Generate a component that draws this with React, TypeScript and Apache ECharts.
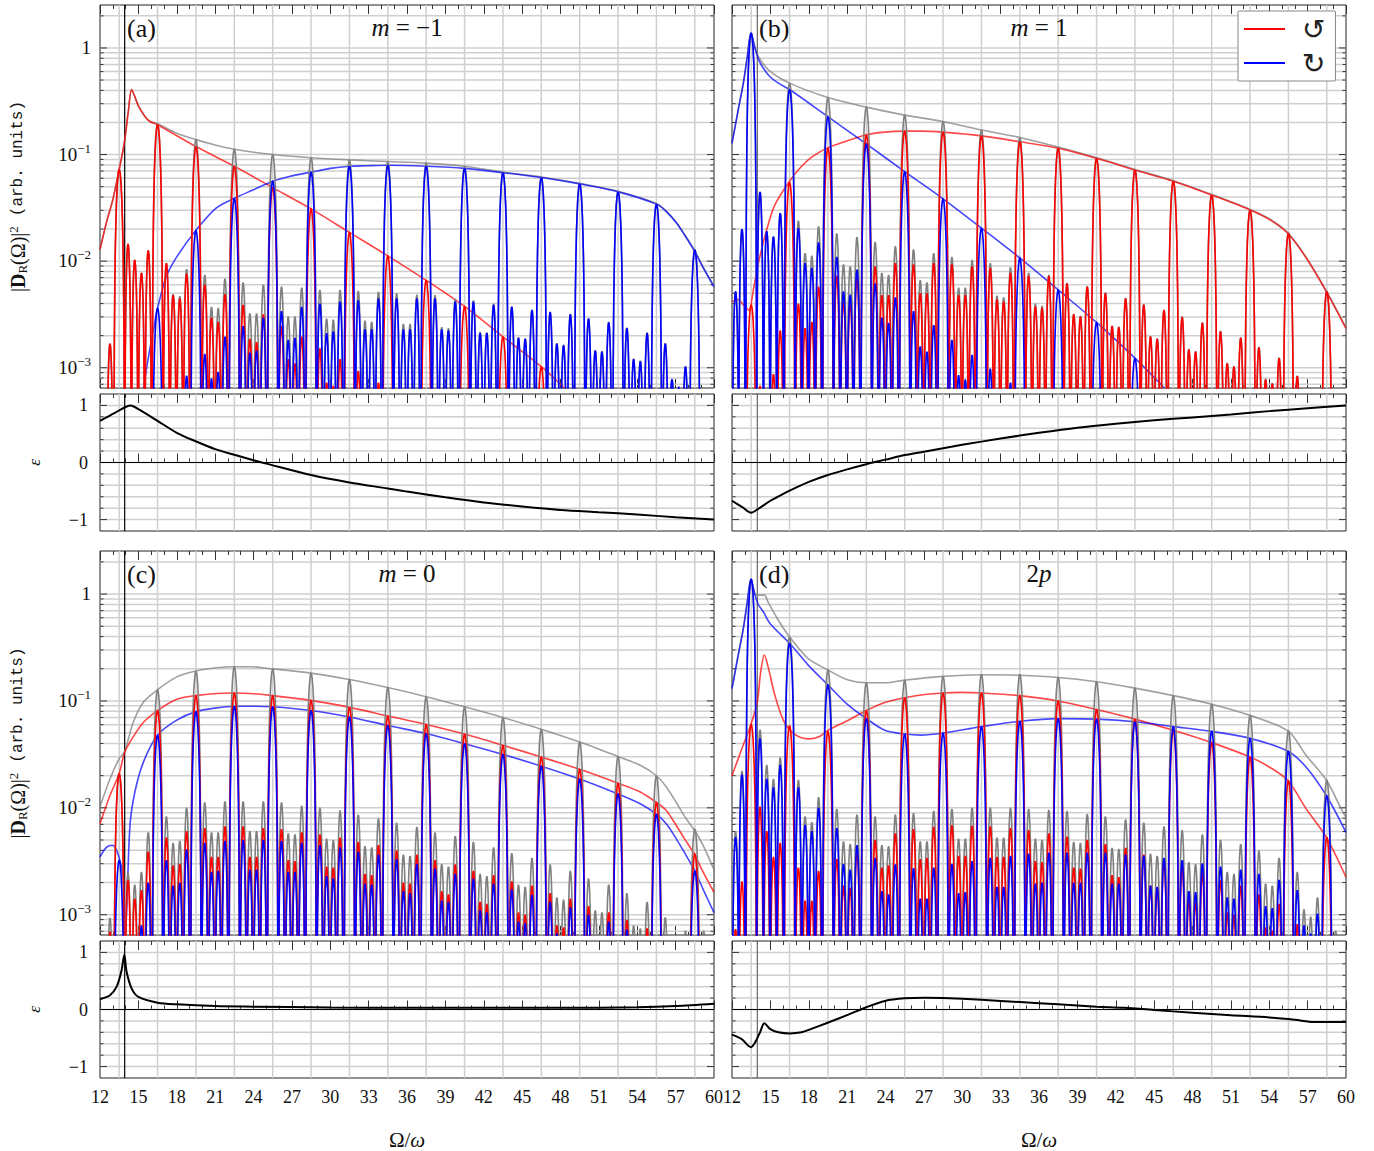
import React, { useEffect, useRef } from "react";
import * as echarts from "echarts";

// All |D|^2 values are stored as log10(|D|^2).
const n = null;
const xTickLabels = [12, 15, 18, 21, 24, 27, 30, 33, 36, 39, 42, 45, 48, 51, 54, 57, 60];
const harmonics = [13.5, 16.5, 19.5, 22.5, 25.5, 28.5, 31.5, 34.5, 37.5, 40.5, 43.5, 46.5, 49.5, 52.5, 55.5, 58.5];
const logGrid = [7e-4, 8e-4, 9e-4, 1e-3, 2e-3, 3e-3, 4e-3, 5e-3, 6e-3, 7e-3, 8e-3, 9e-3, 1e-2, 2e-2, 3e-2, 4e-2, 5e-2, 6e-2, 7e-2, 8e-2, 9e-2, 0.1, 0.2, 0.3, 0.4, 0.5, 0.6, 0.7, 0.8, 0.9, 1, 2];
const logMajor = [1e-3, 1e-2, 1e-1, 1];
const epsGrid = [-1, -0.8, -0.6, -0.4, -0.2, 0, 0.2, 0.4, 0.6, 0.8, 1];
const epsMajor = [-1, 0, 1];

// Lobes: positions relative to each harmonic, and half widths.
const headLobes = [12.28, 12.78];
const lobeOffsets = [0, 0.69, 1.215, 1.74, 2.27];
const lobeHalfWidths = [0.42, 0.265, 0.265, 0.265, 0.265];
// Lobe outline: [fraction of half width, fraction of peak height].
const lobeOutline = [[-1, 1e-4], [-0.96, 0.004], [-0.9, 0.024], [-0.8, 0.095], [-0.7, 0.206], [-0.6, 0.345], [-0.5, 0.5], [-0.35, 0.73], [-0.2, 0.9], [-0.1, 0.975], [0, 1], [0.1, 0.975], [0.2, 0.9], [0.35, 0.73], [0.5, 0.5], [0.6, 0.345], [0.7, 0.206], [0.8, 0.095], [0.9, 0.024], [0.96, 0.004], [1, 1e-4]];

// Peak heights: two head lobes, then per harmonic [main, side1..side4].
const aGray = [n, -2.775,
  -1.14, -1.84, -1.99, -2.11, -1.90,
  -0.71, -2.02, -2.31, -2.33, -2.075,
  -0.86, -2.13, -2.43, -2.44, -2.165,
  -0.95, -2.2, -2.49, -2.49, -2.22,
  -1.0, -2.24, -2.52, -2.52, -2.25,
  -1.03, -2.27, -2.54, -2.55, -2.27,
  -1.05, -2.28, -2.56, -2.57, -2.29,
  -1.065, -2.30, -2.59, -2.59, -2.315,
  -1.08, -2.32, -2.62, -2.63, -2.355,
  -1.11, -2.37, -2.665, -2.67, -2.40,
  -1.165, -2.425, -2.715, -2.725, -2.455,
  -1.21, -2.475, -2.77, -2.785, -2.495,
  -1.27, -2.535, -2.835, -2.845, -2.57,
  -1.345, -2.625, -2.915, -2.935, -2.67,
  -1.46, -2.77, -3.105, -3.175, -2.985,
  -1.89, n, n, n, n];
const aRed = [n, -2.775,
  -1.14, -1.84, -1.99, -2.11, -1.90,
  -0.72, -2.02, -2.32, -2.35, -2.12,
  -0.925, -2.22, -2.53, -2.57, -2.31,
  -1.11, -2.41, -2.73, -2.76, -2.50,
  -1.31, -2.61, -2.92, -2.96, -2.71,
  -1.51, -2.82, -3.14, -3.17, -2.92,
  -1.73, -3.03, n, n, -3.14,
  -1.95, n, n, n, n,
  -2.18, n, n, n, n,
  -2.425, n, n, n, n,
  -2.71, n, n, n, n,
  -2.99, n, n, n, n,
  n, n, n, n, n,
  n, n, n, n, n,
  n, n, n, n, n,
  n, n, n, n, n];
const aBlue = [n, n,
  n, n, n, n, n,
  -2.44, n, n, n, -3.075,
  -1.71, -2.87, -3.10, -3.04, -2.71,
  -1.41, -2.61, -2.86, -2.84, -2.53,
  -1.25, -2.47, -2.74, -2.72, -2.43,
  -1.165, -2.40, -2.675, -2.66, -2.38,
  -1.11, -2.37, -2.64, -2.64, -2.35,
  -1.10, -2.35, -2.64, -2.64, -2.35,
  -1.11, -2.35, -2.64, -2.65, -2.38,
  -1.13, -2.38, -2.675, -2.675, -2.41,
  -1.17, -2.43, -2.72, -2.73, -2.46,
  -1.215, -2.48, -2.775, -2.79, -2.50,
  -1.275, -2.54, -2.84, -2.85, -2.575,
  -1.35, -2.63, -2.92, -2.94, -2.675,
  -1.465, -2.775, -3.11, -3.18, -2.99,
  -1.895, n, n, n, n];

const bGray = [-2.285, -1.70,
  0.14, -1.35, -1.72, -1.77, -1.55,
  -0.33, -1.62, -1.925, -1.95, -1.675,
  -0.465, -1.74, -2.03, -2.05, -1.775,
  -0.555, -1.82, -2.11, -2.13, -1.86,
  -0.63, -1.89, -2.18, -2.20, -1.925,
  -0.69, -1.96, -2.25, -2.25, -1.99,
  -0.77, -2.02, -2.325, -2.34, -2.06,
  -0.84, -2.11, -2.40, -2.42, -2.13,
  -0.93, -2.205, -2.495, -2.515, -2.235,
  -1.03, -2.295, -2.605, -2.615, -2.345,
  -1.14, -2.405, -2.705, -2.725, -2.455,
  -1.245, -2.52, -2.825, -2.845, -2.575,
  -1.375, -2.655, -2.955, -2.985, -2.715,
  -1.515, -2.805, -3.105, -3.145, -2.905,
  -1.735, -3.075, n, n, n,
  -2.28, n, n, n, n];
const bRed = [n, n,
  -2.41, -3.17, n, -3.06, -2.65,
  -1.26, -2.40, -2.63, -2.57, -2.24,
  -0.94, -2.14, -2.38, -2.39, -2.16,
  -0.815, -2.05, -2.32, -2.32, -2.02,
  -0.78, -2.03, -2.30, -2.30, -2.02,
  -0.79, -2.03, -2.32, -2.32, -2.05,
  -0.825, -2.065, -2.36, -2.38, -2.11,
  -0.88, -2.14, -2.425, -2.44, -2.14,
  -0.94, -2.21, -2.50, -2.52, -2.24,
  -1.035, -2.30, -2.61, -2.62, -2.35,
  -1.145, -2.41, -2.71, -2.73, -2.46,
  -1.25, -2.525, -2.83, -2.85, -2.58,
  -1.38, -2.66, -2.96, -2.99, -2.72,
  -1.52, -2.81, -3.11, -3.15, -2.91,
  -1.74, -3.08, n, n, n,
  -2.285, n, n, n, n];
const bBlue = [-2.285, -1.70,
  0.14, -1.35, -1.72, -1.77, -1.55,
  -0.39, -1.69, -2.02, -2.065, -1.825,
  -0.645, -1.96, -2.285, -2.315, -2.08,
  -0.90, -2.21, -2.53, -2.58, -2.34,
  -1.16, -2.47, -2.80, -2.85, -2.60,
  -1.415, -2.74, -3.07, -3.11, -2.88,
  -1.69, -3.01, n, n, -3.14,
  -1.97, n, n, n, n,
  -2.27, n, n, n, n,
  -2.575, n, n, n, n,
  -2.91, n, n, n, n,
  n, n, n, n, n,
  n, n, n, n, n,
  n, n, n, n, n,
  n, n, n, n, n,
  n, n, n, n, n];

const cGray = [n, -3.03,
  -1.68, -2.61, -2.72, -2.60, -2.23,
  -0.895, -2.08, -2.33, -2.31, -2.0,
  -0.72, -1.95, -2.23, -2.23, -1.94,
  -0.68, -1.94, -2.22, -2.22, -1.94,
  -0.70, -1.95, -2.24, -2.25, -1.98,
  -0.74, -2.0, -2.29, -2.30, -2.025,
  -0.80, -2.065, -2.36, -2.37, -2.10,
  -0.875, -2.14, -2.44, -2.45, -2.18,
  -0.96, -2.23, -2.525, -2.55, -2.265,
  -1.055, -2.32, -2.62, -2.64, -2.37,
  -1.155, -2.425, -2.72, -2.74, -2.47,
  -1.265, -2.53, -2.84, -2.86, -2.59,
  -1.385, -2.66, -2.96, -2.98, -2.72,
  -1.52, -2.80, -3.10, -3.13, -2.88,
  -1.70, -3.025, n, n, -3.15,
  -2.20, -3.15, n, n, n];
const cRed = [n, -3.16,
  -1.68, -2.675, -2.85, -2.77, -2.41,
  -1.09, -2.28, -2.54, -2.525, -2.22,
  -0.95, -2.19, -2.46, -2.46, -2.175,
  -0.925, -2.175, -2.46, -2.46, -2.19,
  -0.95, -2.20, -2.49, -2.50, -2.23,
  -0.995, -2.25, -2.55, -2.56, -2.28,
  -1.06, -2.32, -2.62, -2.63, -2.35,
  -1.14, -2.40, -2.70, -2.71, -2.44,
  -1.22, -2.49, -2.78, -2.81, -2.53,
  -1.31, -2.59, -2.88, -2.90, -2.63,
  -1.415, -2.69, -2.98, -3.0, -2.73,
  -1.525, -2.80, -3.10, -3.12, -2.85,
  -1.64, -2.92, n, n, -2.98,
  -1.77, -3.05, n, n, -3.13,
  -1.95, n, n, n, n,
  -2.43, n, n, n, n];
const cBlue = [n, n,
  -2.49, n, n, -3.10, -2.70,
  -1.32, -2.49, -2.73, -2.70, -2.39,
  -1.10, -2.33, -2.60, -2.59, -2.31,
  -1.05, -2.30, -2.58, -2.58, -2.30,
  -1.055, -2.31, -2.60, -2.60, -2.33,
  -1.09, -2.35, -2.64, -2.66, -2.37,
  -1.15, -2.41, -2.71, -2.72, -2.44,
  -1.23, -2.48, -2.78, -2.80, -2.525,
  -1.305, -2.57, -2.87, -2.88, -2.62,
  -1.40, -2.665, -2.96, -2.98, -2.71,
  -1.50, -2.765, -3.065, -3.08, -2.815,
  -1.61, -2.88, -3.175, n, -2.93,
  -1.73, -3.0, n, n, -3.065,
  -1.87, -3.14, n, n, n,
  -2.06, n, n, n, n,
  -2.59, n, n, n, n];

const dGray = [-2.22, -1.655,
  0.14, -1.27, -1.60, -1.73, -1.53,
  -0.40, -1.74, -2.08, -2.135, -1.90,
  -0.71, -2.01, -2.315, -2.34, -2.065,
  -0.83, -2.08, -2.35, -2.36, -2.065,
  -0.805, -2.05, -2.315, -2.315, -2.03,
  -0.77, -2.01, -2.29, -2.29, -2.0,
  -0.75, -2.0, -2.28, -2.28, -2.0,
  -0.75, -2.01, -2.29, -2.30, -2.02,
  -0.78, -2.03, -2.32, -2.33, -2.06,
  -0.82, -2.08, -2.375, -2.385, -2.11,
  -0.88, -2.14, -2.43, -2.45, -2.175,
  -0.95, -2.21, -2.51, -2.525, -2.25,
  -1.03, -2.30, -2.60, -2.62, -2.34,
  -1.135, -2.40, -2.71, -2.73, -2.47,
  -1.28, -2.60, -2.95, -3.02, -2.84,
  -1.74, -3.15, n, n, n];
const dRed = [-3.135, -2.69,
  -1.22, -1.99, -2.22, -2.46, -2.33,
  -1.23, -2.56, -2.87, -2.87, -2.59,
  -1.285, -2.48, -2.73, -2.75, -2.41,
  -1.09, -2.30, -2.56, -2.54, -2.24,
  -0.97, -2.20, -2.48, -2.47, -2.18,
  -0.925, -2.165, -2.45, -2.45, -2.17,
  -0.925, -2.175, -2.46, -2.46, -2.19,
  -0.95, -2.21, -2.50, -2.51, -2.24,
  -1.0, -2.27, -2.56, -2.57, -2.30,
  -1.08, -2.34, -2.63, -2.65, -2.375,
  -1.17, -2.44, -2.73, -2.75, -2.49,
  -1.275, -2.56, -2.86, -2.88, -2.61,
  -1.39, -2.68, -2.98, -3.0, -2.73,
  -1.525, -2.81, -3.12, -3.15, -2.90,
  -1.745, -3.09, n, n, n,
  -2.275, n, n, n, n];
const dBlue = [-2.275, -1.69,
  0.14, -1.35, -1.73, -1.81, -1.60,
  -0.46, -1.81, -2.16, -2.22, -2.0,
  -0.85, -2.19, -2.525, -2.58, -2.35,
  -1.165, -2.47, -2.78, -2.81, -2.53,
  -1.31, -2.565, -2.85, -2.85, -2.56,
  -1.30, -2.525, -2.80, -2.79, -2.50,
  -1.24, -2.47, -2.74, -2.74, -2.45,
  -1.19, -2.43, -2.71, -2.70, -2.42,
  -1.165, -2.42, -2.70, -2.70, -2.42,
  -1.17, -2.42, -2.71, -2.71, -2.44,
  -1.195, -2.45, -2.73, -2.74, -2.47,
  -1.24, -2.49, -2.78, -2.79, -2.52,
  -1.285, -2.55, -2.84, -2.85, -2.58,
  -1.35, -2.62, -2.92, -2.94, -2.675,
  -1.47, -2.77, -3.10, -3.175, -2.99,
  -1.885, n, n, n, n];

// Envelopes: [Omega/omega, log10(|D|^2)].
const aRedEnv = [[12, -1.89], [12.5, -1.64], [13, -1.425], [13.5, -1.14], [13.9, -0.89], [14.2, -0.61], [14.47, -0.39], [14.7, -0.45], [15, -0.544], [15.5, -0.64], [15.9, -0.69], [16.5, -0.72], [19.5, -0.925], [22.5, -1.11], [25.5, -1.31], [28.5, -1.51], [31.5, -1.73], [34.5, -1.95], [37.5, -2.18], [40.5, -2.425], [43.5, -2.71], [46.5, -2.99], [48.3, -3.19]];
const aBlueEnv = [[15.4, -3.19], [15.8, -2.89], [16.2, -2.63], [16.5, -2.44], [17.2, -2.14], [18, -1.96], [19.5, -1.71], [21.1, -1.5], [22.5, -1.41], [24, -1.33], [25.5, -1.25], [26.8, -1.205], [28.5, -1.165], [30, -1.13], [31.5, -1.11], [32.8, -1.105], [34.5, -1.1], [37.5, -1.11], [40.5, -1.13], [43.5, -1.17], [46.5, -1.215], [49.5, -1.275], [52.5, -1.35], [55.5, -1.465], [56.27, -1.535], [57.05, -1.64], [57.7, -1.755], [58.45, -1.9], [59.15, -2.06], [60, -2.24]];
const aGrayEnv = [[12, -1.89], [12.5, -1.64], [13, -1.425], [13.5, -1.14], [13.9, -0.89], [14.2, -0.61], [14.47, -0.39], [14.7, -0.45], [15, -0.544], [15.5, -0.64], [15.9, -0.69], [16.5, -0.71], [18, -0.8], [19.5, -0.86], [21, -0.91], [22.5, -0.95], [25.5, -1.0], [28.5, -1.03], [31.5, -1.05], [34.5, -1.065], [37.5, -1.08], [40.5, -1.11], [43.5, -1.165], [46.5, -1.21], [49.5, -1.27], [52.5, -1.345], [55.5, -1.46], [56.27, -1.53], [57.05, -1.635], [57.7, -1.75], [58.45, -1.895], [59.15, -2.055], [60, -2.235]];

const bRedEnv = [[12, -2.38], [12.49, -2.36], [12.89, -2.41], [13.33, -2.46], [13.67, -2.27], [14.06, -2.02], [14.7, -1.71], [15.36, -1.47], [16.5, -1.25], [17.44, -1.11], [18.28, -1.02], [19.5, -0.935], [20.8, -0.88], [22.5, -0.815], [23.95, -0.79], [25.5, -0.78], [26.8, -0.78], [28.5, -0.79], [31.5, -0.825], [34.5, -0.88], [37.5, -0.94], [40.5, -1.035], [43.5, -1.145], [46.5, -1.25], [49.5, -1.38], [52.5, -1.52], [54.03, -1.61], [55.46, -1.74], [56.89, -1.97], [58.46, -2.285], [60, -2.63]];
const bBlueEnv = [[12, -0.895], [12.49, -0.58], [12.89, -0.33], [13.2, -0.08], [13.48, 0.14], [13.8, 0], [14.06, -0.105], [14.45, -0.19], [14.97, -0.27], [15.62, -0.33], [16.5, -0.39], [19.5, -0.645], [22.5, -0.9], [25.5, -1.16], [28.5, -1.415], [31.5, -1.69], [34.5, -1.97], [37.5, -2.27], [40.5, -2.575], [43.5, -2.91], [45.8, -3.19]];
const bGrayEnv = [[12, -0.89], [12.49, -0.575], [12.89, -0.325], [13.2, -0.075], [13.48, 0.14], [13.8, 0], [14.06, -0.08], [14.84, -0.205], [16.5, -0.33], [19.5, -0.465], [22.5, -0.555], [25.5, -0.63], [28.5, -0.69], [31.5, -0.77], [34.5, -0.84], [37.5, -0.93], [40.5, -1.03], [43.5, -1.14], [46.5, -1.245], [49.5, -1.375], [52.5, -1.515], [54.03, -1.605], [55.46, -1.735], [56.89, -1.965], [58.46, -2.28], [60, -2.625]];

const cGrayEnv = [[12, -1.99], [12.78, -1.73], [13.5, -1.54], [13.9, -1.48], [14.6, -1.2], [15.4, -1.01], [16.5, -0.895], [18, -0.775], [19.5, -0.72], [21.1, -0.69], [22.5, -0.68], [23.7, -0.68], [25.5, -0.7], [28.5, -0.74], [31.5, -0.8], [34.5, -0.875], [37.5, -0.96], [40.5, -1.055], [43.5, -1.155], [46.5, -1.265], [49.5, -1.385], [52.5, -1.52], [54.2, -1.6], [55.5, -1.7], [56.27, -1.805], [57.05, -1.95], [57.7, -2.08], [58.5, -2.215], [59.14, -2.35], [60, -2.58]];
const cRedEnv = [[12, -2.15], [12.78, -1.885], [13.5, -1.68], [13.9, -1.49], [14.34, -1.385], [15.4, -1.2], [16.5, -1.09], [18, -0.985], [19.5, -0.95], [21.1, -0.93], [22.5, -0.925], [23.7, -0.93], [25.5, -0.95], [28.5, -0.995], [31.5, -1.06], [34.5, -1.14], [37.5, -1.22], [40.5, -1.31], [43.5, -1.415], [46.5, -1.525], [49.5, -1.64], [52.5, -1.77], [54.2, -1.85], [55.5, -1.95], [56.27, -2.025], [57.05, -2.165], [57.7, -2.29], [58.5, -2.44], [59.14, -2.6], [60, -2.79]];
const cBlueEnv = [[12, -2.46], [12.5, -2.37], [12.96, -2.35], [13.4, -2.43], [13.82, -2.665], [13.95, -3.19], [14.08, -2.98], [14.34, -2.17], [14.73, -1.85], [15.4, -1.57], [16.5, -1.32], [18, -1.18], [19.5, -1.1], [21.1, -1.065], [22.5, -1.05], [23.7, -1.05], [25.5, -1.055], [28.5, -1.09], [31.5, -1.15], [34.5, -1.23], [37.5, -1.305], [40.5, -1.4], [43.5, -1.5], [46.5, -1.61], [49.5, -1.73], [52.5, -1.87], [54.2, -1.96], [55.5, -2.06], [56.27, -2.15], [57.05, -2.29], [57.7, -2.42], [58.5, -2.59], [59.14, -2.76], [60, -2.98]];

const dRedEnv = [[12, -1.7], [12.76, -1.45], [13.48, -1.22], [13.98, -1.01], [14.24, -0.73], [14.53, -0.57], [14.79, -0.665], [15.36, -0.95], [16.01, -1.18], [16.53, -1.275], [17.31, -1.34], [18.09, -1.355], [18.88, -1.33], [19.5, -1.275], [21.09, -1.18], [22.5, -1.09], [23.95, -1.015], [25.5, -0.97], [27.08, -0.94], [28.5, -0.925], [29.94, -0.92], [31.5, -0.925], [34.5, -0.95], [37.5, -1.0], [40.5, -1.08], [43.5, -1.17], [46.5, -1.275], [49.5, -1.39], [52.5, -1.525], [54.03, -1.62], [55.46, -1.745], [56.89, -2.01], [58.46, -2.275], [60, -2.65]];
const dBlueEnv = [[12, -0.885], [12.49, -0.57], [12.89, -0.32], [13.2, -0.07], [13.48, 0.14], [13.8, -0.01], [14.06, -0.1], [14.45, -0.165], [14.97, -0.275], [16.5, -0.46], [17.96, -0.665], [19.5, -0.85], [21.09, -1.04], [22.5, -1.165], [23.95, -1.275], [25.5, -1.31], [26.8, -1.32], [28.5, -1.3], [31.5, -1.24], [34.5, -1.19], [37.5, -1.165], [40.5, -1.17], [43.5, -1.195], [46.5, -1.24], [49.5, -1.285], [52.5, -1.35], [55.46, -1.47], [56.89, -1.62], [58.46, -1.885], [60, -2.23]];
const dGrayEnv = [[12, -0.88], [12.49, -0.565], [12.89, -0.315], [13.2, -0.065], [13.48, 0.14], [13.8, 0], [14.06, -0.01], [14.53, -0.01], [14.84, -0.08], [15.62, -0.245], [16.5, -0.4], [17.96, -0.605], [19.5, -0.71], [21.09, -0.805], [22.5, -0.83], [23.95, -0.83], [25.5, -0.805], [28.5, -0.77], [31.5, -0.755], [34.5, -0.76], [37.5, -0.78], [40.5, -0.82], [43.5, -0.88], [46.5, -0.95], [49.5, -1.03], [52.5, -1.135], [55.46, -1.28], [56.89, -1.51], [58.46, -1.74], [59.63, -2.01], [60, -2.09]];

// Lower panels: [Omega/omega, epsilon].
const aEps = [[12, 0.73], [13.17, 0.87], [14.4, 1.0], [15, 0.935], [16.5, 0.73], [18, 0.52], [19.5, 0.37], [21, 0.235], [22.5, 0.135], [24, 0.04], [25, -0.02], [28.5, -0.22], [31.5, -0.35], [34.5, -0.455], [36, -0.51], [39, -0.61], [42, -0.7], [45, -0.77], [48, -0.83], [51, -0.87], [54, -0.91], [57, -0.96], [60, -1.0]];
const bEps = [[12, -0.67], [12.8, -0.78], [13.5, -0.88], [14, -0.82], [15, -0.67], [16, -0.55], [17, -0.44], [18, -0.34], [19.5, -0.22], [21, -0.12], [22.5, -0.03], [24, 0.05], [25.5, 0.13], [27, 0.19], [28.5, 0.25], [30, 0.31], [33, 0.42], [36, 0.52], [39, 0.61], [42, 0.68], [45, 0.74], [48, 0.79], [51, 0.84], [54, 0.9], [57, 0.95], [60, 1.0]];
const cEps = [[12, 0.18], [12.78, 0.25], [13.3, 0.4], [13.69, 0.69], [13.9, 0.96], [14.08, 0.66], [14.47, 0.37], [15, 0.22], [16.5, 0.12], [18, 0.09], [21, 0.06], [24, 0.05], [30, 0.035], [36, 0.03], [42, 0.03], [48, 0.03], [54, 0.04], [57, 0.06], [60, 0.1]];
const dEps = [[12, -0.44], [12.76, -0.52], [13.48, -0.66], [13.8, -0.58], [14.19, -0.4], [14.53, -0.24], [14.97, -0.34], [15.62, -0.4], [16.53, -0.42], [17.44, -0.4], [18.2, -0.34], [19.27, -0.25], [21.09, -0.09], [22.5, 0.04], [23.95, 0.15], [25.5, 0.195], [27.08, 0.205], [28.5, 0.2], [31.5, 0.17], [34.5, 0.13], [37.5, 0.09], [40.5, 0.05], [42.7, 0.03], [45, -0.01], [48, -0.055], [51, -0.1], [54, -0.14], [56, -0.18], [57.5, -0.22], [60, -0.22]];

const panelTags = ["(a)", "(b)", "(c)", "(d)"];
const panelTitles = ["{i|m} = −1", "{i|m} = 1", "{i|m} = 0", "2{i|p}"];
const vLineX = [13.93, 13.98, 13.93, 13.98];

const SERIF = "'Liberation Serif', serif";
const LOG_MIN = Math.pow(10, -3.19);
const LOG_MAX = Math.pow(10, 0.403);
const LEFTS = [100, 732];
const W = 614;
const ROWS = [{ top: 5, h: 383, lowTop: 394, lowH: 137 }, { top: 551, h: 384, lowTop: 941, lowH: 137 }];

function lobeCenters() {
  const c: { x: number; hw: number }[] = headLobes.map((x) => ({ x, hw: 0.265 }));
  harmonics.forEach((h) => lobeOffsets.forEach((o, i) => c.push({ x: h + o, hw: lobeHalfWidths[i] })));
  return c;
}
const LOBES = lobeCenters();

function combPoints(heights: (number | null)[]) {
  const pts: number[][] = [];
  LOBES.forEach((l, i) => {
    const h = heights[i];
    if (h === null || h === undefined) return;
    lobeOutline.forEach(([u, f]) => pts.push([l.x + u * l.hw, Math.pow(10, h) * f]));
  });
  return pts;
}
const envPoints = (e: number[][]) => e.map(([x, l]) => [x, Math.pow(10, l)]);

function gridSeries(xi: number, yi: number, values: number[], majors: number[], isLog: boolean) {
  const tick = (a: number[], b: number[]) => ({ type: "line", shape: { x1: a[0], y1: a[1], x2: b[0], y2: b[1] }, style: { stroke: "#333", lineWidth: 1 } });
  return [
    {
      type: "custom", xAxisIndex: xi, yAxisIndex: yi, z: 1, silent: true,
      data: harmonics.map((h) => [h, isLog ? 1 : 0]),
      renderItem: (_: any, api: any) => {
        const x = api.value(0);
        const a = api.coord([x, isLog ? LOG_MIN : -1.2]);
        const b = api.coord([x, isLog ? LOG_MAX : 1.2]);
        return { type: "line", shape: { x1: a[0], y1: a[1], x2: b[0], y2: b[1] }, style: { stroke: "#cfcfcf", lineWidth: 1.5 } };
      },
    },
    {
      type: "custom", xAxisIndex: xi, yAxisIndex: yi, z: 1, silent: true,
      data: values.map((v) => [12, v]),
      renderItem: (_: any, api: any) => {
        const v = api.value(1);
        const a = api.coord([12, v]);
        const b = api.coord([60, v]);
        const len = majors.indexOf(v) >= 0 ? 7 : 3.5;
        return {
          type: "group",
          children: [
            { type: "line", shape: { x1: a[0], y1: a[1], x2: b[0], y2: b[1] }, style: { stroke: "#cfcfcf", lineWidth: 1.5 } },
            tick(a, [a[0] + len, a[1]]),
            tick(b, [b[0] - len, b[1]]),
          ],
        };
      },
    },
  ];
}

function lineSeries(xi: number, yi: number, data: number[][], color: string, width: number, opacity: number, z: number, smooth: boolean, name?: string) {
  return {
    type: "line", name, xAxisIndex: xi, yAxisIndex: yi, data, color, z,
    showSymbol: false, symbol: "none", silent: true, smooth: smooth ? 0.3 : false,
    lineStyle: { color, width, opacity },
  };
}

const PANEL_DATA = [
  { gray: aGray, red: aRed, blue: aBlue, gEnv: aGrayEnv, rEnv: aRedEnv, bEnv: aBlueEnv, eps: aEps },
  { gray: bGray, red: bRed, blue: bBlue, gEnv: bGrayEnv, rEnv: bRedEnv, bEnv: bBlueEnv, eps: bEps },
  { gray: cGray, red: cRed, blue: cBlue, gEnv: cGrayEnv, rEnv: cRedEnv, bEnv: cBlueEnv, eps: cEps },
  { gray: dGray, red: dRed, blue: dBlue, gEnv: dGrayEnv, rEnv: dRedEnv, bEnv: dBlueEnv, eps: dEps },
];

const tickStyle = { color: "#333", width: 1 };

function xAxisPair(gridIndex: number, labelled: boolean, named: boolean) {
  const base = {
    type: "value", gridIndex, min: 12, max: 60, interval: 3,
    axisLine: { show: false }, splitLine: { show: false },
    axisTick: { show: true, inside: true, length: 9, lineStyle: tickStyle },
    minorTick: { show: true, splitNumber: 3, length: 4, lineStyle: tickStyle },
  };
  return [
    {
      ...base, position: "bottom",
      axisLabel: { show: labelled, margin: 10, fontFamily: SERIF, fontSize: 18, color: "#111", hideOverlap: false, showMinLabel: true, showMaxLabel: true },
      ...(named ? {
        name: "Ω/{i|ω}", nameLocation: "middle", nameGap: 51,
        nameTextStyle: { fontFamily: SERIF, fontSize: 21, color: "#111", rich: { i: { fontFamily: SERIF, fontStyle: "italic", fontSize: 21, color: "#111" } } },
      } : {}),
    },
    { ...base, position: "top", axisLabel: { show: false } },
  ];
}

const yNameRich = {
  n: { fontFamily: SERIF, fontSize: 20, color: "#111", height: 22, verticalAlign: "middle" },
  b: { fontFamily: SERIF, fontSize: 20, fontWeight: "bold", color: "#111", verticalAlign: "middle" },
  t: { fontFamily: "'Liberation Mono', monospace", fontSize: 16, color: "#111", verticalAlign: "middle" },
  sub: { fontFamily: SERIF, fontSize: 13, color: "#111", verticalAlign: "bottom" },
  sup: { fontFamily: SERIF, fontSize: 13, color: "#111", verticalAlign: "top" },
};
const labelRich = {
  b: { fontFamily: SERIF, fontSize: 19, color: "#111", verticalAlign: "bottom", lineHeight: 22 },
  s: { fontFamily: SERIF, fontSize: 13, color: "#111", verticalAlign: "top", lineHeight: 22 },
};

function buildOption() {
  const grid: any[] = [];
  const xAxis: any[] = [];
  const yAxis: any[] = [];
  const series: any[] = [];
  const title: any[] = [];
  PANEL_DATA.forEach((p, i) => {
    const col = i % 2;
    const row = ROWS[i < 2 ? 0 : 1];
    const left = LEFTS[col];
    const g0 = grid.length;
    const frame = { show: true, borderColor: "#222", borderWidth: 1, backgroundColor: "transparent", left, width: W, outerBoundsMode: "none" };
    grid.push({ ...frame, top: row.top, height: row.h }, { ...frame, top: row.lowTop, height: row.lowH });
    const x0 = xAxis.length;
    xAxis.push(...xAxisPair(g0, false, false), ...xAxisPair(g0 + 1, i >= 2, i >= 2));
    const yU = yAxis.length;
    yAxis.push({
      type: "log", logBase: 10, gridIndex: g0, min: LOG_MIN, max: LOG_MAX,
      axisLine: { show: false }, axisTick: { show: false }, splitLine: { show: false }, minorSplitLine: { show: false },
      axisLabel: {
        show: col === 0, margin: 9, customValues: logMajor, hideOverlap: false, rich: labelRich,
        fontFamily: SERIF, fontSize: 19, color: "#111", padding: [0, 0, 4, 0],
        formatter: (v: number) => {
          const e = Math.round(Math.log10(v));
          return e === 0 ? "{b|1}" : `{b|10}{s|−${-e}}`;
        },
      },
      ...(col === 0 ? {
        name: "{n||}{b|D}{sub|R}{n|(Ω)|}{sup|2}{n|  }{t|(arb. units)}", nameLocation: "middle", nameRotate: 90, nameGap: 71,
        nameTextStyle: { rich: yNameRich, fontFamily: SERIF, fontSize: 20, color: "#111" },
      } : {}),
    }, {
      type: "value", gridIndex: g0 + 1, min: -1.2, max: 1.2, interval: 0.2,
      axisLine: { show: false }, axisTick: { show: false }, splitLine: { show: false },
      axisLabel: {
        show: col === 0, margin: 12, customValues: epsMajor, fontFamily: SERIF, fontSize: 18, color: "#111", hideOverlap: false,
        formatter: (v: number) => (v < 0 ? `−${Math.abs(v)}` : `${v}`),
      },
      ...(col === 0 ? {
        name: "ε", nameLocation: "middle", nameRotate: 90, nameGap: 57,
        nameTextStyle: { fontFamily: SERIF, fontStyle: "italic", fontSize: 17, color: "#111" },
      } : {}),
    });
    const xU = x0;
    const xL = x0 + 2;
    const yL = yU + 1;
    series.push(...gridSeries(xU, yU, logGrid, logMajor, true));
    series.push(...gridSeries(xL, yL, epsGrid, epsMajor, false));
    const vColor = col === 0 ? "#000" : "#666";
    series.push(lineSeries(xU, yU, [[vLineX[i], LOG_MIN], [vLineX[i], LOG_MAX]], vColor, 1.2, 1, 2, false));
    series.push(lineSeries(xL, yL, [[vLineX[i], -1.2], [vLineX[i], 1.2]], vColor, 1.2, 1, 2, false));
    series.push(lineSeries(xL, yL, [[12, 0], [60, 0]], "#000", 1, 1, 2, false));
    series.push(lineSeries(xL, yL, p.eps, "#000", 2, 1, 3, true));
    series.push(lineSeries(xU, yU, envPoints(p.gEnv), "#808080", 1.6, 0.75, 3, true));
    series.push(lineSeries(xU, yU, envPoints(p.rEnv), "#ff0000", 1.6, 0.72, 3, true));
    series.push(lineSeries(xU, yU, envPoints(p.bEnv), "#0000ff", 1.6, 0.72, 3, true));
    series.push(lineSeries(xU, yU, combPoints(p.gray), "#808080", 1.6, 1, 4, false));
    series.push(lineSeries(xU, yU, combPoints(p.red), "#ff0000", 1.6, 1, 5, false, i === 1 ? "↺" : undefined));
    series.push(lineSeries(xU, yU, combPoints(p.blue), "#0000ff", 1.6, 1, 6, false, i === 1 ? "↻" : undefined));
    const rich = { i: { fontFamily: SERIF, fontStyle: "italic", fontSize: 25, color: "#111" } };
    title.push({
      text: panelTags[i], left: left + 27, top: row.top + 10, padding: 0,
      textStyle: { fontFamily: SERIF, fontSize: 26, fontWeight: "normal", color: "#111" },
    }, {
      text: panelTitles[i], left: left + W / 2, top: row.top + 10, padding: 0, textAlign: "center",
      textStyle: { fontFamily: SERIF, fontSize: 25, fontWeight: "normal", color: "#111", rich },
    });
  });
  return {
    animation: false,
    backgroundColor: "#fff",
    grid, xAxis, yAxis, series, title,
    legend: {
      data: ["↺", "↻"], orient: "vertical", left: 1238, top: 11, width: 99,
      padding: [4, 10, 4, 6], itemWidth: 41, itemHeight: 2, itemGap: 6, icon: "rect",
      backgroundColor: "#fff", borderColor: "#888", borderWidth: 1, borderRadius: 1, z: 20,
      selectedMode: false,
      textStyle: { fontFamily: "'DejaVu Sans'", fontSize: 28, color: "#222", padding: [0, 0, 0, 12] },
    },
  };
}

export default function App() {
  const ref = useRef<HTMLDivElement>(null);
  useEffect(() => {
    const chart = echarts.init(ref.current!, undefined, { renderer: "svg" });
    chart.setOption(buildOption() as any);
    return () => chart.dispose();
  }, []);
  return <div ref={ref} style={{ position: "absolute", left: 0, top: 0, width: 1374, height: 1151 }} />;
}
